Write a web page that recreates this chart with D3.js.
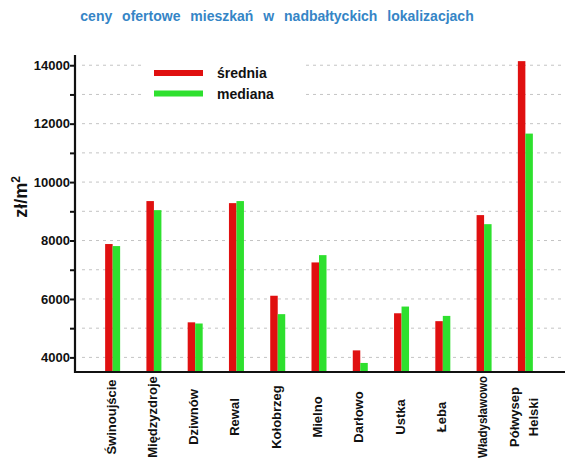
<!DOCTYPE html>
<html>
<head>
<meta charset="utf-8">
<script src="https://cdn.jsdelivr.net/npm/d3@7"></script>
<style>
  body { margin: 0; background: #fff; }
  text { font-family: "Liberation Sans", Arial, sans-serif; font-weight: bold; }
</style>
</head>
<body>
<div id="chart-area"></div>
<script>
var cities = ["Świnoujście", "Międzyzdroje", "Dziwnów", "Rewal", "Kołobrzeg", "Mielno",
              "Darłowo", "Ustka", "Łeba", "Władysławowo", "Półwysep Helski"];
var srednia = [7880, 9350, 5200, 9280, 6110, 7250, 4240, 5510, 5240, 8870, 14140];
var mediana = [7810, 9040, 5160, 9350, 5480, 7500, 3810, 5740, 5420, 8560, 11660];
var seriesNames = ["średnia", "mediana"];
var yTicks = [4000, 5000, 6000, 7000, 8000, 9000, 10000, 11000, 12000, 13000, 14000];

var svgWidth = 580, svgHeight = 467;
var colors = { "średnia": "#e01010", "mediana": "#2ee02e" };

var svg = d3.select("#chart-area")
            .append("svg")
            .attr("width", svgWidth)
            .attr("height", svgHeight);

var x = d3.scaleBand().domain(cities).range([92, 546]);
var xSub = d3.scaleBand().domain(seriesNames).range([-7.5, 7.5]);
var y = d3.scaleLinear().domain([3500, 14350]).range([372, 55]);

// title
svg.append("text")
   .attr("x", 277)
   .attr("y", 21)
   .attr("text-anchor", "middle")
   .attr("fill", "#3585c6")
   .style("font-size", "14px")
   .style("word-spacing", "6px")
   .text("ceny ofertowe mieszkań w nadbałtyckich lokalizacjach");

// grid lines
svg.append("g").selectAll("line")
   .data(yTicks)
   .enter().append("line")
   .attr("x1", 82)
   .attr("x2", 565)
   .attr("y1", function(d) { return y(d); })
   .attr("y2", function(d) { return y(d); })
   .attr("stroke", "#c4c4c4")
   .attr("stroke-dasharray", "3,4");

// legend box covers the grid
svg.append("rect")
   .attr("x", 145).attr("y", 58)
   .attr("width", 160).attr("height", 46)
   .attr("fill", "#fff");

var legend = svg.append("g").selectAll("g")
   .data(seriesNames)
   .enter().append("g")
   .attr("transform", function(d, i) { return "translate(154," + (73 + i * 20.5) + ")"; });

legend.append("rect")
      .attr("x", 0).attr("y", -3)
      .attr("width", 49).attr("height", 6)
      .attr("fill", function(d) { return colors[d]; });

legend.append("text")
      .attr("x", 63).attr("y", 5)
      .style("font-size", "14px")
      .attr("fill", "#111")
      .text(function(d) { return d; });

// bars
var groups = svg.append("g").selectAll("g")
   .data(cities)
   .enter().append("g")
   .attr("transform", function(d) { return "translate(" + (x(d) + x.bandwidth() / 2) + ",0)"; });

groups.selectAll("rect")
   .data(function(d, i) {
     return [{ key: "średnia", value: srednia[i] }, { key: "mediana", value: mediana[i] }];
   })
   .enter().append("rect")
   .attr("x", function(d) { return xSub(d.key); })
   .attr("width", xSub.bandwidth())
   .attr("y", function(d) { return y(d.value); })
   .attr("height", function(d) { return y(3500) - y(d.value); })
   .attr("fill", function(d) { return colors[d.key]; });

// y axis
var yAxis = svg.append("g")
   .attr("transform", "translate(75,0)")
   .call(d3.axisLeft(y)
           .tickValues(yTicks)
           .tickSize(5)
           .tickFormat(function(d) { return d % 2000 === 0 ? d : ""; }));
yAxis.select(".domain").remove();
yAxis.selectAll(".tick line").attr("stroke", "#111").attr("stroke-width", 2);
yAxis.selectAll(".tick text")
     .attr("x", -5)
     .attr("fill", "#111")
     .style("font-size", "13px")
     .style("font-family", "'Liberation Sans', Arial, sans-serif");

svg.append("line")
   .attr("x1", 75).attr("x2", 75)
   .attr("y1", y(14350)).attr("y2", y(3500) + 1)
   .attr("stroke", "#111").attr("stroke-width", 2.2);

// x axis
svg.append("line")
   .attr("x1", 74).attr("x2", 565)
   .attr("y1", y(3500)).attr("y2", y(3500))
   .attr("stroke", "#111").attr("stroke-width", 2.2);

var xLabels = svg.append("g").selectAll("text")
   .data(cities)
   .enter().append("text")
   .attr("transform", function(d) {
     return "translate(" + (x(d) + x.bandwidth() / 2 - 2) + ",417) rotate(-90)";
   })
   .attr("text-anchor", "middle")
   .attr("fill", "#111")
   .style("font-size", "13px");

xLabels.each(function(d) {
  var parts = d.split(" ");
  var t = d3.select(this);
  parts.forEach(function(p, i) {
    var span = t.append("tspan")
     .attr("x", 0)
     .attr("y", (i - (parts.length - 1) / 2) * 19 + 5)
     .text(p);
    if (span.node().getComputedTextLength() > 82) {
      span.attr("textLength", 82).attr("lengthAdjust", "spacingAndGlyphs");
    }
  });
});

// y label
var yLabel = svg.append("text")
   .attr("transform", "translate(27,197) rotate(-90)")
   .attr("text-anchor", "middle")
   .attr("fill", "#111")
   .style("font-size", "18px");
yLabel.append("tspan").text("zł/m");
yLabel.append("tspan").attr("dy", -7).style("font-size", "12px").text("2");
</script>
</body>
</html>
